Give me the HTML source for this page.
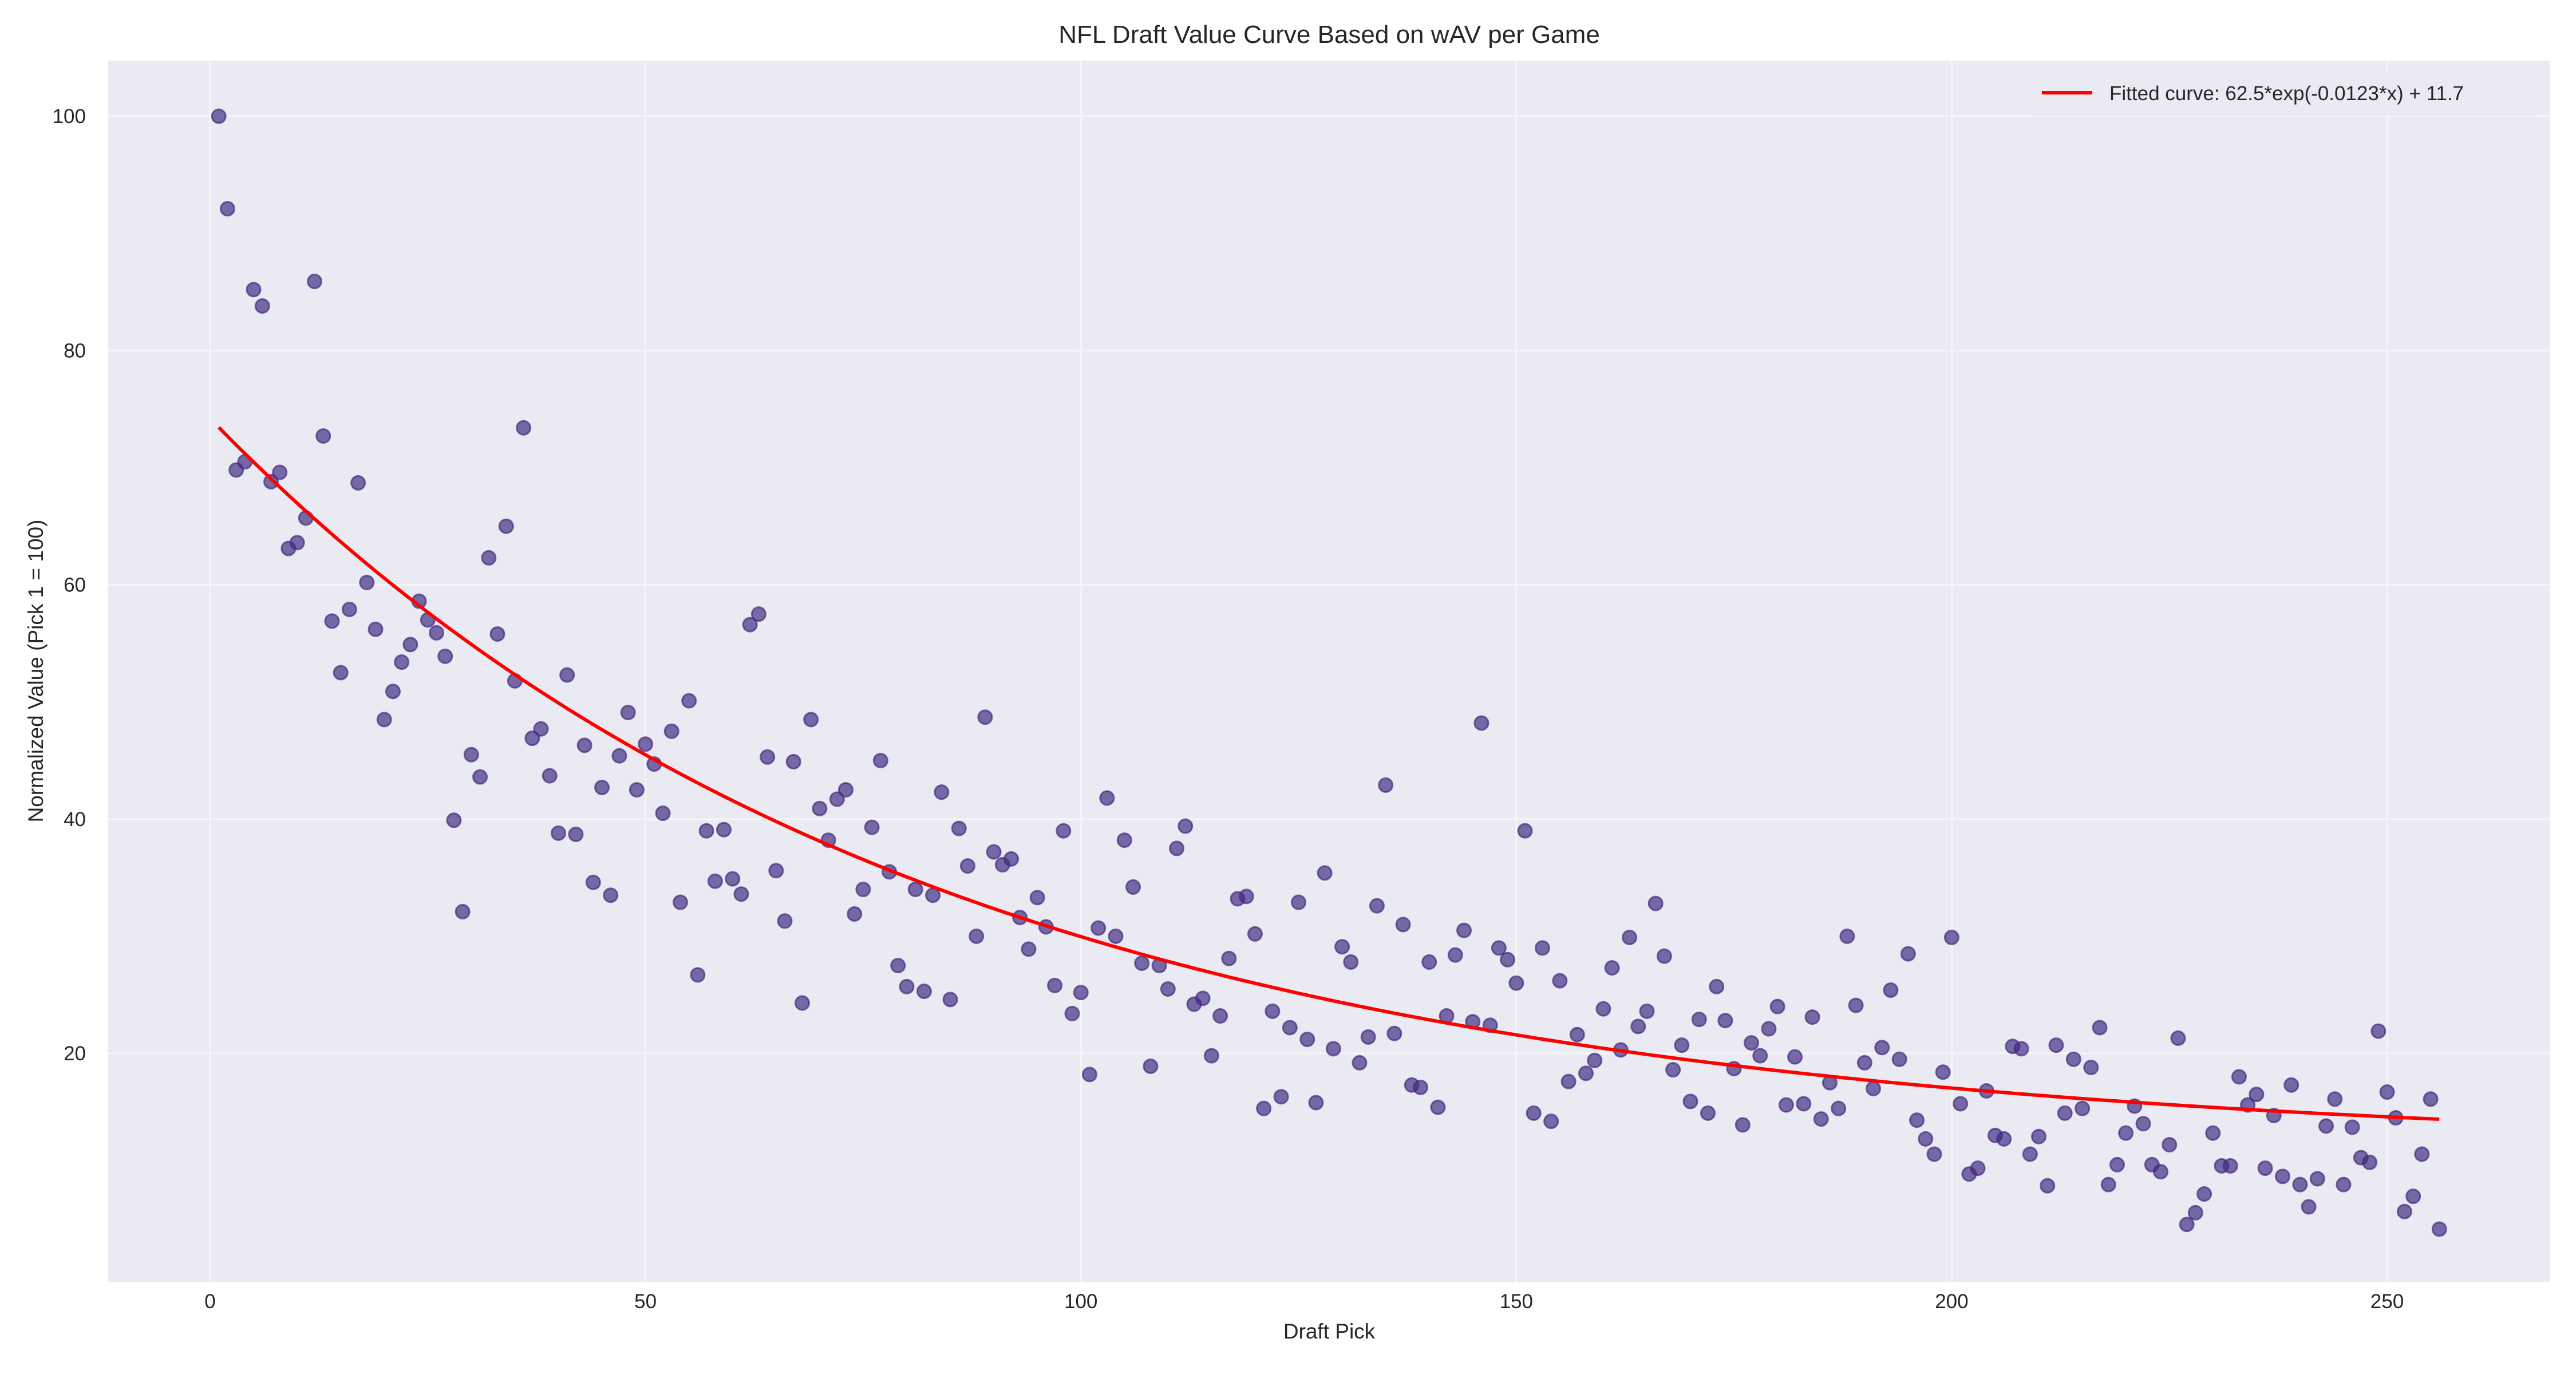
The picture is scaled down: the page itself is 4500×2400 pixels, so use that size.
<!DOCTYPE html>
<html><head><meta charset="utf-8"><style>
html,body{margin:0;padding:0;background:#fff;}
svg{display:block;font-family:"Liberation Sans",sans-serif;}
</style></head><body>
<svg id="chart" width="4500" height="2400" viewBox="0 0 4500 2400">
<rect x="0" y="0" width="4500" height="2400" fill="#fff"/>
<rect x="189" y="106" width="4266" height="2133" fill="#eaeaf2"/>
<g id="grid"></g>
<g id="points"></g>
<path id="fit" fill="none" stroke="#ff0000" stroke-width="6"/>
<g id="ticks"></g>
<text x="2322" y="75" font-size="44" text-anchor="middle" fill="#262626">NFL Draft Value Curve Based on wAV per Game</text>
<text x="2322" y="2338" font-size="37" text-anchor="middle" fill="#262626">Draft Pick</text>
<text transform="translate(75,1172) rotate(-90)" font-size="37" text-anchor="middle" fill="#262626">Normalized Value (Pick 1 = 100)</text>
<g>
<rect x="3540" y="122" width="900" height="80" rx="8" fill="#eaeaf2" opacity="0.8"/>
<line x1="3567" y1="162" x2="3655" y2="162" stroke="#ff0000" stroke-width="6"/>
<text x="3685" y="175" font-size="35" fill="#262626">Fitted curve: 62.5*exp(-0.0123*x) + 11.7</text>
</g>
</svg>
<script>
const values = [100,92.1,69.8,70.5,85.2,83.8,68.8,69.6,63.1,63.6,65.7,85.9,72.7,56.9,52.5,57.9,68.7,60.2,56.2,48.5,50.9,53.4,54.9,58.6,57.0,55.9,53.9,39.9,32.1,45.5,43.6,62.3,55.8,65.0,51.8,73.4,46.9,47.7,43.7,38.8,52.3,38.7,46.3,34.6,42.7,33.5,45.4,49.1,42.5,46.4,44.7,40.5,47.5,32.9,50.1,26.7,39.0,34.7,39.1,34.9,33.6,56.6,57.5,45.3,35.6,31.3,44.9,24.3,48.5,40.9,38.2,41.7,42.5,31.9,34.0,39.3,45.0,35.5,27.5,25.7,34.0,25.3,33.5,42.3,24.6,39.2,36.0,30.0,48.7,37.2,36.1,36.6,31.6,28.9,33.3,30.8,25.8,39.0,23.4,25.2,18.2,30.7,41.8,30.0,38.2,34.2,27.7,18.9,27.5,25.5,37.5,39.4,24.2,24.7,19.8,23.2,28.1,33.2,33.4,30.2,15.3,23.6,16.3,22.2,32.9,21.2,15.8,35.4,20.4,29.1,27.8,19.2,21.4,32.6,42.9,21.7,31.0,17.3,17.1,27.8,15.4,23.2,28.4,30.5,22.7,48.2,22.4,29.0,28.0,26.0,39.0,14.9,29.0,14.2,26.2,17.6,21.6,18.3,19.4,23.8,27.3,20.3,29.9,22.3,23.6,32.8,28.3,18.6,20.7,15.9,22.9,14.9,25.7,22.8,18.7,13.9,20.9,19.8,22.1,24.0,15.6,19.7,15.7,23.1,14.4,17.5,15.3,30.0,24.1,19.2,17.0,20.5,25.4,19.5,28.5,14.3,12.7,11.4,18.4,29.9,15.7,9.7,10.2,16.8,13.0,12.7,20.6,20.4,11.4,12.9,8.7,20.7,14.9,19.5,15.3,18.8,22.2,8.8,10.5,13.2,15.5,14.0,10.5,9.9,12.2,21.3,5.4,6.4,8.0,13.2,10.4,10.4,18.0,15.6,16.5,10.2,14.7,9.5,17.3,8.8,6.9,9.3,13.8,16.1,8.8,13.7,11.1,10.7,21.9,16.7,14.5,6.5,7.8,11.4,16.1,5.0];
const xTicks = [0,50,100,150,200,250];
const yTicks = [20,40,60,80,100];
const fitParams = [62.5,0.0123,11.7];

const ns = "http://www.w3.org/2000/svg";
const X0 = 189, X1 = 4455, Y0 = 106, Y1 = 2239;
function xs(v){ return 367 + v * (4170 - 367) / 250; }
function ys(v){ return 1840 - (v - 20) * (1840 - 203) / 80; }

const grid = document.getElementById('grid');
const ticks = document.getElementById('ticks');
xTicks.forEach(t => {
  const l = document.createElementNS(ns,'line');
  l.setAttribute('x1',xs(t)); l.setAttribute('x2',xs(t));
  l.setAttribute('y1',Y0); l.setAttribute('y2',Y1);
  l.setAttribute('stroke','#f5f5f8'); l.setAttribute('stroke-width','3');
  
  
  grid.appendChild(l);
  const tx = document.createElementNS(ns,'text');
  tx.setAttribute('x',xs(t)); tx.setAttribute('y',2285);
  tx.setAttribute('font-size','35'); tx.setAttribute('text-anchor','middle'); tx.setAttribute('fill','#262626');
  tx.textContent = t;
  
  
  ticks.appendChild(tx);
});
yTicks.forEach(t => {
  const l = document.createElementNS(ns,'line');
  l.setAttribute('x1',X0); l.setAttribute('x2',X1);
  l.setAttribute('y1',ys(t)); l.setAttribute('y2',ys(t));
  l.setAttribute('stroke','#f5f5f8'); l.setAttribute('stroke-width','3');
  
  
  grid.appendChild(l);
  const tx = document.createElementNS(ns,'text');
  tx.setAttribute('x',150); tx.setAttribute('y',ys(t)+12);
  tx.setAttribute('font-size','35'); tx.setAttribute('text-anchor','end'); tx.setAttribute('fill','#262626');
  tx.textContent = t;
  
  
  ticks.appendChild(tx);
});

const pts = document.getElementById('points');
values.forEach((v,i) => {
  const c = document.createElementNS(ns,'circle');
  c.setAttribute('cx', xs(i+1)); c.setAttribute('cy', ys(v)); c.setAttribute('r', 12);
  c.setAttribute('fill','#3f2a80'); c.setAttribute('fill-opacity','0.68');
  c.setAttribute('stroke','#3f2a80'); c.setAttribute('stroke-opacity','0.68'); c.setAttribute('stroke-width','3');
  
  
  pts.appendChild(c);
});

let d = '';
for (let p = 1; p <= values.length; p++) {
  const v = fitParams[0]*Math.exp(-fitParams[1]*p) + fitParams[2];
  d += (p===1?'M':'L') + xs(p).toFixed(1) + ',' + ys(v).toFixed(1);
}
document.getElementById('fit').setAttribute('d', d);
</script>
</body></html>
